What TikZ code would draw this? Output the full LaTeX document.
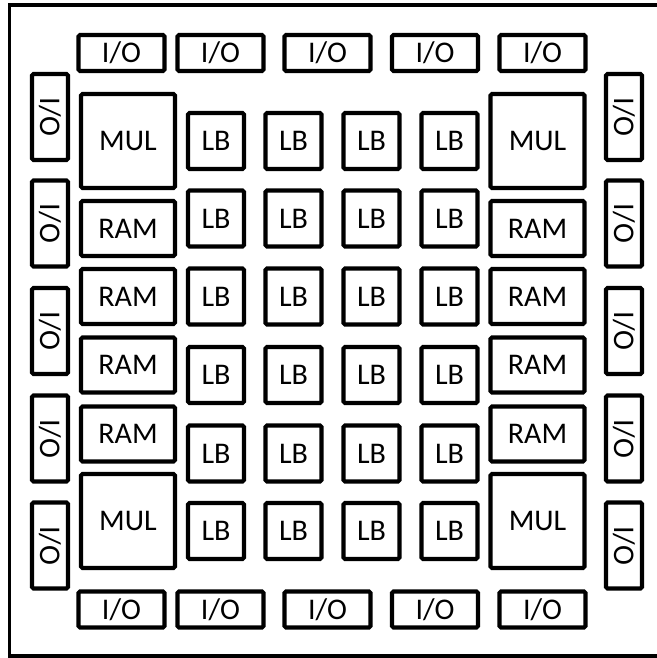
\documentclass[tikz,border=0pt]{standalone}
\usepackage{fontspec}
\setmainfont{Carlito}
\usepackage{tikz}
\tikzstyle{blk} = [draw, line width=4.2pt, rounded corners=1.5pt, inner sep=0pt, font=\fontsize{30}{34}\selectfont]
\tikzstyle{iobox} = [blk, minimum width=86pt, minimum height=36pt]
\tikzstyle{mulbox} = [blk, minimum width=94pt, minimum height=94pt]
\tikzstyle{rambox} = [blk, minimum width=94pt, minimum height=55pt]
\tikzstyle{lbbox} = [blk, minimum width=56pt, minimum height=56pt]

\begin{document}
\begin{tikzpicture}[x=1pt, y=-1pt]
\useasboundingbox (0,0) rectangle (656,658);
% chip outline
\draw[line width=3.5pt] (9.5,5) rectangle (662,656);

% I/O pads
\foreach \x [count=\i] in {121.5,220.5,327.5,435,542.5}{
  \node[iobox] (iot\i) at (\x,53) {I/O};
  \node[iobox] (iob\i) at (\x,609.5) {I/O};
}
\foreach \y [count=\i] in {117,223.5,331,438.5,545.5}{
  \node[iobox, rotate=-90] (iol\i) at (50,\y) {I/O};
  \node[iobox, rotate=-90] (ior\i) at (624,\y) {I/O};
}

% multipliers and RAM columns
\foreach \x/\s in {128/l,537.5/r}{
  \node[mulbox] (mul\s1) at (\x,141) {MUL};
  \node[mulbox] (mul\s2) at (\x,521) {MUL};
  \foreach \y [count=\i] in {228.5,296.5,365,434}
    \node[rambox] (ram\s\i) at (\x,\y) {RAM};
}

% logic blocks
\foreach \x [count=\c] in {216,293.5,371.5,449.5}{
  \foreach \y [count=\r] in {141,218.5,296.5,375,453.5,531}
    \node[lbbox] (lb\r\c) at (\x,\y) {LB};
}
\end{tikzpicture}
\end{document}
